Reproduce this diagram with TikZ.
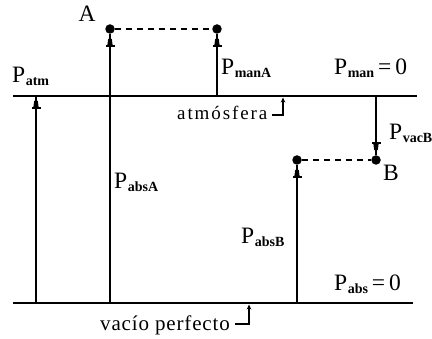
\documentclass[tikz,border=0pt]{standalone}
\usepackage{fontspec}
\setmainfont{Liberation Serif}
\newfontfamily\lblfont[LetterSpace=10]{Liberation Serif}
\newfontfamily\vacfont[LetterSpace=4]{Liberation Serif}
\usetikzlibrary{arrows.meta,decorations.markings,calc}
\newcommand\Psub[1]{P\kern0.5pt\raisebox{-2.5pt}{\fontsize{14}{14}\selectfont\bfseries #1}}
\tikzset{
  lvl/.style={line width=1.6pt},
  dot/.style={circle, fill, inner sep=0pt, minimum size=9.5pt},
  gauge/.style={line width=1.4pt, postaction=decorate,
    decoration={markings, mark=at position -5pt with {
      \fill (-6pt,-2.6pt) -- (0pt,-1.8pt) -- (0pt,1.8pt) -- (-6pt,2.6pt) -- cycle;
      \fill (-8.5pt,-4.5pt) rectangle (-6pt,4.5pt);}}},
  link/.style={line width=1.3pt, dash pattern=on 6pt off 5pt},
  hook/.style={line width=1.2pt, -{Stealth[length=5pt,width=4.5pt]}},
  txt/.style={font=\fontsize{23.5}{23.5}\selectfont, inner sep=0pt},
  lbl/.style={font=\lblfont\fontsize{19}{19}\selectfont, inner sep=0pt},
}
\begin{document}
\begin{tikzpicture}[x=1pt,y=-1pt]
\useasboundingbox (0,0) rectangle (432,339);
% levels
\coordinate (t0) at (13,96);
\coordinate (t1) at (417,96);
\coordinate (b0) at (13,303);
\coordinate (b1) at (413,303);
\draw[lvl] (t0) -- (t1);
\draw[lvl] (b0) -- (b1);
% points
\node[dot] (A) at (110,29) {};
\node[dot] (Am) at (217,29) {};
\node[dot] (B) at (376,160) {};
\node[dot] (Bb) at (297,160) {};
\draw[link] (A) -- (Am);
\draw[link] (Bb) -- (B);
% foot coordinates
\coordinate (atmB) at (36,303);
\coordinate (atmT) at (36,96);
\coordinate (absAB) at (110,303);
\coordinate (manAT) at (217,96);
\coordinate (vacT) at (376,96);
\coordinate (absBB) at (297,303);
\draw[gauge] (atmB) -- (atmT);
\draw[gauge] (absAB) -- (A);
\draw[gauge] (manAT) -- (Am);
\draw[gauge] (vacT) -- (B);
\draw[gauge] (absBB) -- (Bb);
% labels
\node[txt] (lA) at (87,14) {A};
\node[txt] (lB) at (391,173) {B};
\node[txt, anchor=base west] (patm) at (12,83) {\Psub{atm}};
\node[txt, anchor=base west] (pmanA) at (221,75) {\Psub{manA}};
\node[txt, anchor=base west] (pman) at (334,75) {\Psub{man}\,=\,0};
\node[txt, anchor=base west] (pvacB) at (389,140) {\Psub{vacB}};
\node[txt, anchor=base west] (pabsA) at (114,189) {\Psub{absA}};
\node[txt, anchor=base west] (pabsB) at (241,244) {\Psub{absB}};
\node[txt, anchor=base west] (pabs) at (334,291) {\Psub{abs}\,=\,0};
\node[lbl, anchor=base west] (latm) at (177,120) {atmósfera};
\node[lbl, anchor=base west, font=\vacfont\fontsize{21}{21}\selectfont] (lvac) at (100,331) {vacío perfecto};
\coordinate (hkA) at (283,97.5);
\coordinate (hkV) at (249,304.5);
\draw[hook] ($(latm.base east)+(4pt,5pt)$) -| (hkA);
\draw[hook] ($(lvac.base east)+(5pt,7pt)$) -| (hkV);
\end{tikzpicture}
\end{document}
